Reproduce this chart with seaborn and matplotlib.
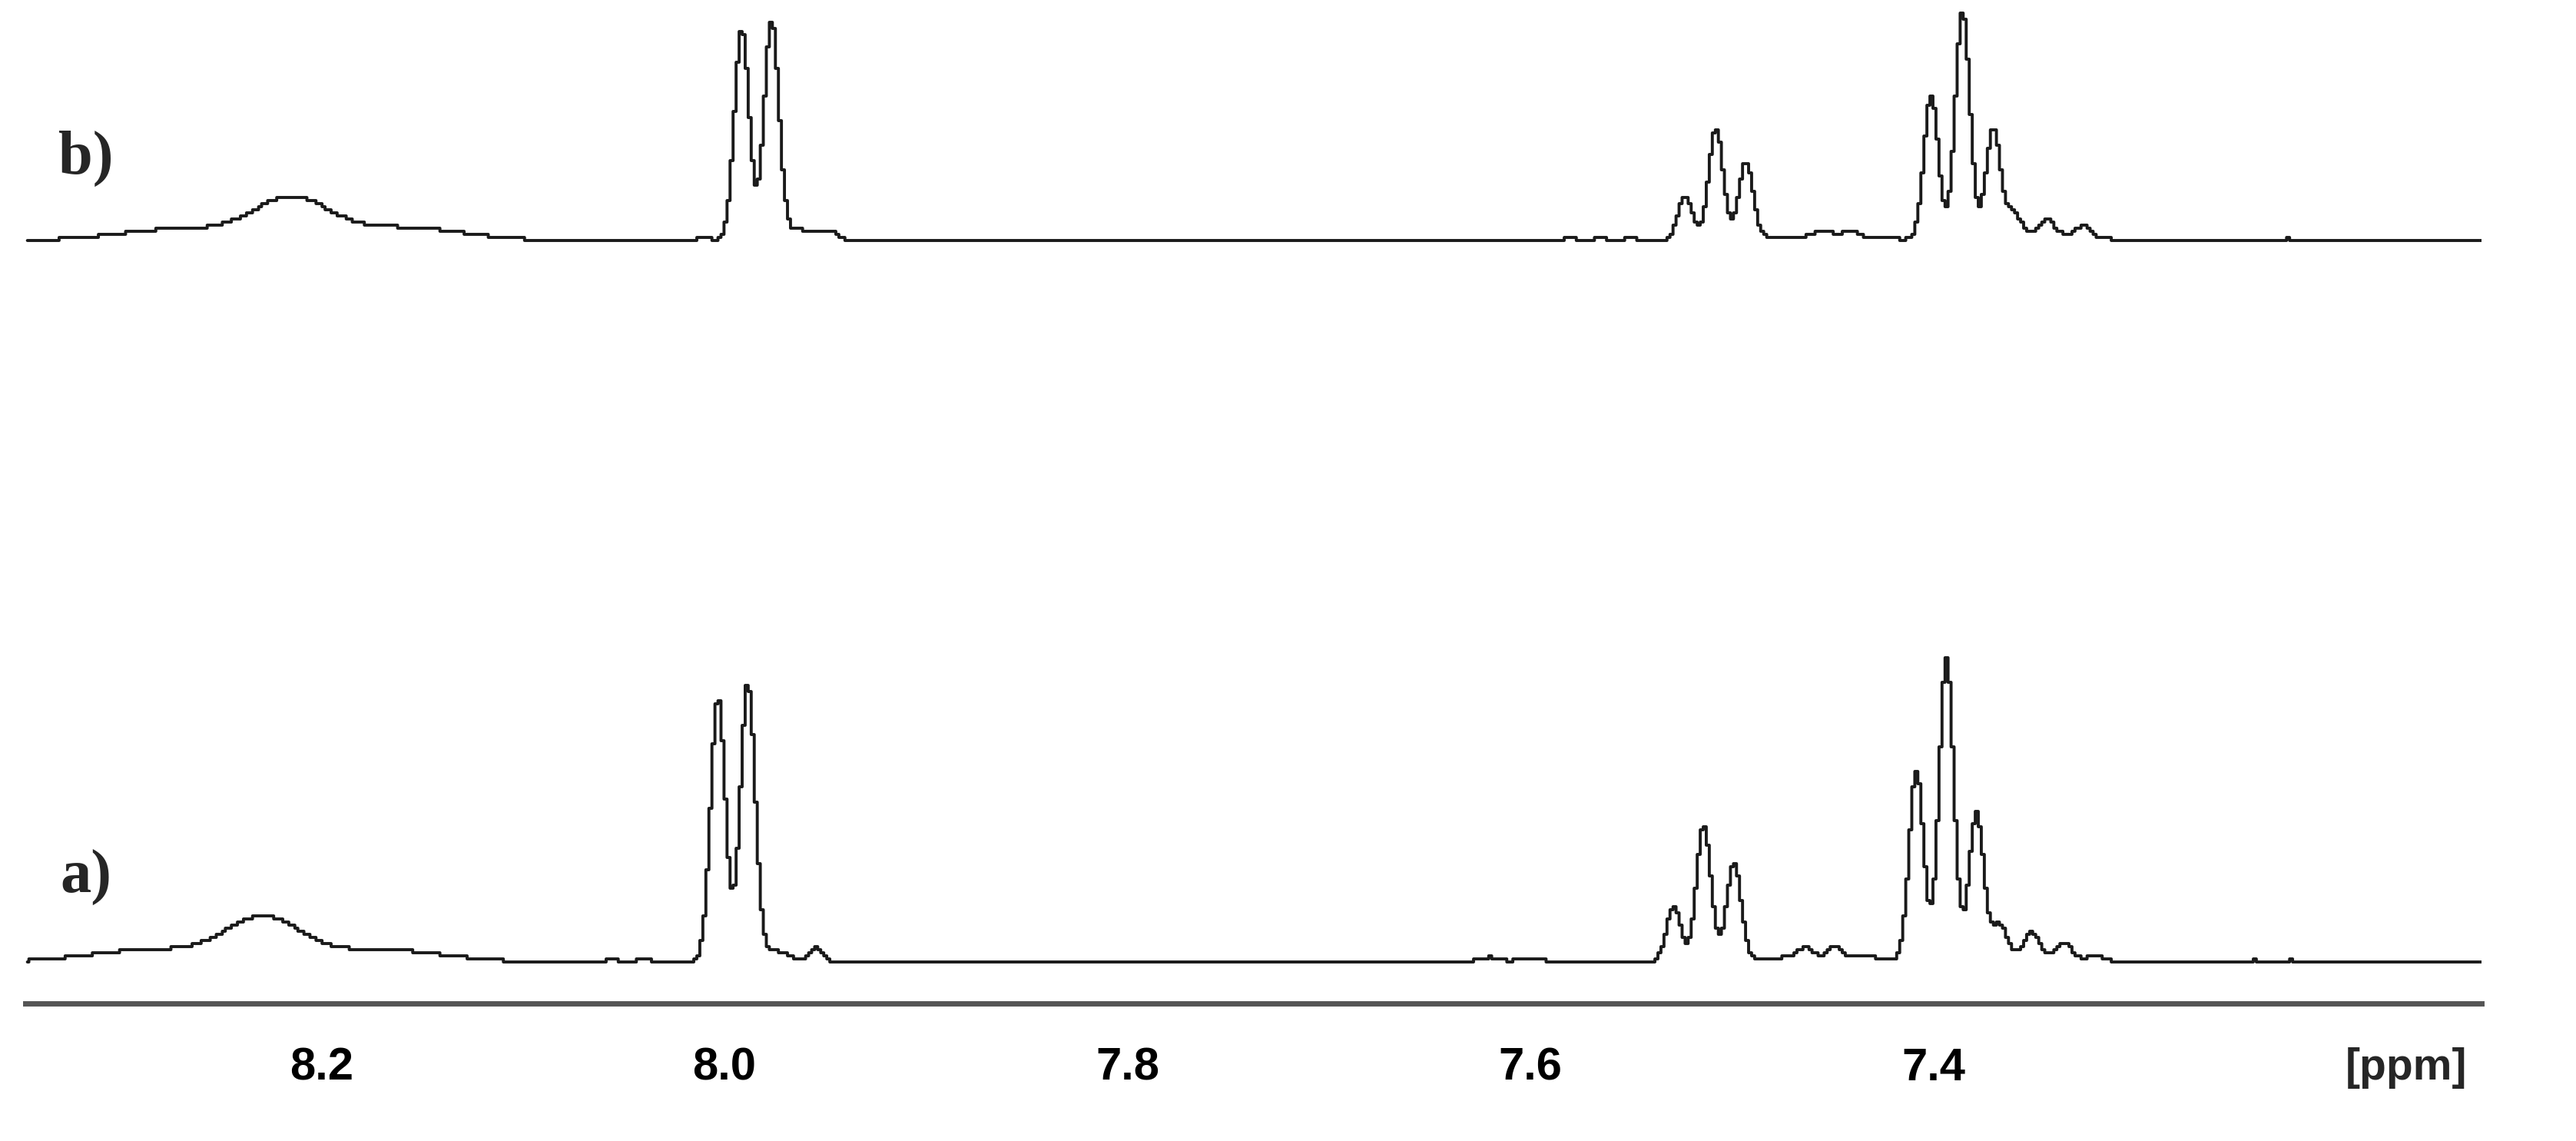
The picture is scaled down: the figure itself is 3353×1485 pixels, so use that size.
import numpy as np
import pandas as pd
import matplotlib
matplotlib.use("Agg")
import matplotlib.pyplot as plt
import seaborn as sns

# ---------------------------------------------------------
# Peak tables
# (shift in ppm, height above baseline, half width at half max in ppm)
# ---------------------------------------------------------
shift_a = [8.285, 8.229, 8.170, 8.056, 8.040,
           8.0032, 7.9884, 7.975, 7.9546,
           7.620, 7.600,
           7.5289, 7.5140, 7.4990,
           7.4637, 7.4488, 7.4328, 7.460,
           7.4084, 7.3935, 7.3786, 7.3672, 7.3508, 7.3348, 7.3192, 7.360,
           7.241, 7.222]
height_a = [16, 55, 16, 4, 4,
            345, 362, 14, 18,
            6, 6,
            72, 178, 126,
            12, 14, 5, 7,
            248, 392, 186, 38, 28, 20, 8, 12,
            3, 3]
hwhm_a = [0.035, 0.022, 0.035, 0.003, 0.003,
          0.0043, 0.0043, 0.008, 0.004,
          0.006, 0.006,
          0.0042, 0.0042, 0.0042,
          0.004, 0.004, 0.004, 0.03,
          0.0042, 0.0042, 0.0042, 0.004, 0.004, 0.004, 0.004, 0.025,
          0.001, 0.001]

shift_b = [8.270, 8.215, 8.160, 8.010,
           7.9914, 7.9766, 7.962, 7.948,
           7.580, 7.565, 7.550,
           7.5232, 7.5079, 7.4930,
           7.4545, 7.4412, 7.455,
           7.4011, 7.3855, 7.3703, 7.3603, 7.3436, 7.3253, 7.350,
           7.224]
height_b = [15, 52, 17, 5,
            275, 285, 14, 12,
            4, 4, 4,
            58, 145, 100,
            8, 8, 6,
            188, 298, 140, 28, 18, 15, 10,
            4]
hwhm_b = [0.035, 0.022, 0.035, 0.003,
          0.0043, 0.0043, 0.008, 0.005,
          0.003, 0.003, 0.003,
          0.0042, 0.0042, 0.0042,
          0.004, 0.004, 0.03,
          0.0042, 0.0042, 0.0042, 0.004, 0.004, 0.004, 0.025,
          0.001]

trace_names = ["a", "b"]
baseline_offset = {"a": 54, "b": 993}   # vertical stacking of the traces

ppm_lo, ppm_hi = 7.128, 8.347
major_ticks = [8.2, 8.0, 7.8, 7.6, 7.4, 7.2]
tick_labels = ["8.2", "8.0", "7.8", "7.6", "7.4", ""]


def spectrum(ppm, shifts, heights, widths):
    y = np.zeros_like(ppm)
    for c, h, w in zip(shifts, heights, widths):
        y += h * np.exp(-np.log(2) * ((ppm - c) / w) ** 2)
    # coarse vertical digitisation like the printed trace
    return np.round(y / 4.0) * 4.0


ppm = np.arange(ppm_lo, ppm_hi, 0.0015)
frames = []
for name, s, h, w in [("a", shift_a, height_a, hwhm_a), ("b", shift_b, height_b, hwhm_b)]:
    frames.append(pd.DataFrame({
        "ppm": ppm,
        "intensity": spectrum(ppm, s, h, w) + baseline_offset[name],
        "trace": name,
    }))
df = pd.concat(frames, ignore_index=True)

# ---------------------------------------------------------
# Plot
# ---------------------------------------------------------
sns.set_theme(style="white")
plt.rcParams["font.family"] = ["Liberation Sans", "DejaVu Sans"]

fig = plt.figure(figsize=(33.53, 14.85), dpi=100)
ax = fig.add_axes([33 / 3353, (1485 - 1306) / 1485, (3230 - 33) / 3353, 1306 / 1485])

sns.lineplot(data=df, x="ppm", y="intensity", hue="trace", units="trace",
             estimator=None, palette={"a": "#1a1a1a", "b": "#1a1a1a"},
             legend=False, drawstyle="steps-mid", linewidth=2.8, ax=ax)

ax.set_xlim(ppm_hi, ppm_lo)
ax.set_ylim(0, 1306)
ax.set_xlabel("")
ax.set_ylabel("")
ax.set_yticks([])

for side in ["left", "right", "top"]:
    ax.spines[side].set_visible(False)
ax.spines["bottom"].set_color("#555555")
ax.spines["bottom"].set_linewidth(5)

ax.set_xticks(major_ticks)
ax.set_xticklabels(tick_labels, fontsize=43, fontweight="bold")
ax.set_xticks(np.arange(7.15, 8.35, 0.05), minor=True)
ax.tick_params(axis="x", which="major", direction="out", length=28, width=2.8,
               color="#555555", pad=13, labelcolor="black")
ax.tick_params(axis="x", which="minor", direction="out", length=16, width=2.8,
               color="#555555")

ax.text(7.1655, -0.044, "[ppm]", transform=ax.get_xaxis_transform(),
        ha="center", va="top", fontsize=41, fontweight="bold")

for name, y in [("a)", 1306 - 1162), ("b)", 1306 - 226)]:
    ax.text(8.317, y, name, ha="center", va="baseline", fontsize=58,
            fontweight="bold", family=["Liberation Serif", "DejaVu Serif"])

fig.savefig("out.png", dpi=100, facecolor="white")
